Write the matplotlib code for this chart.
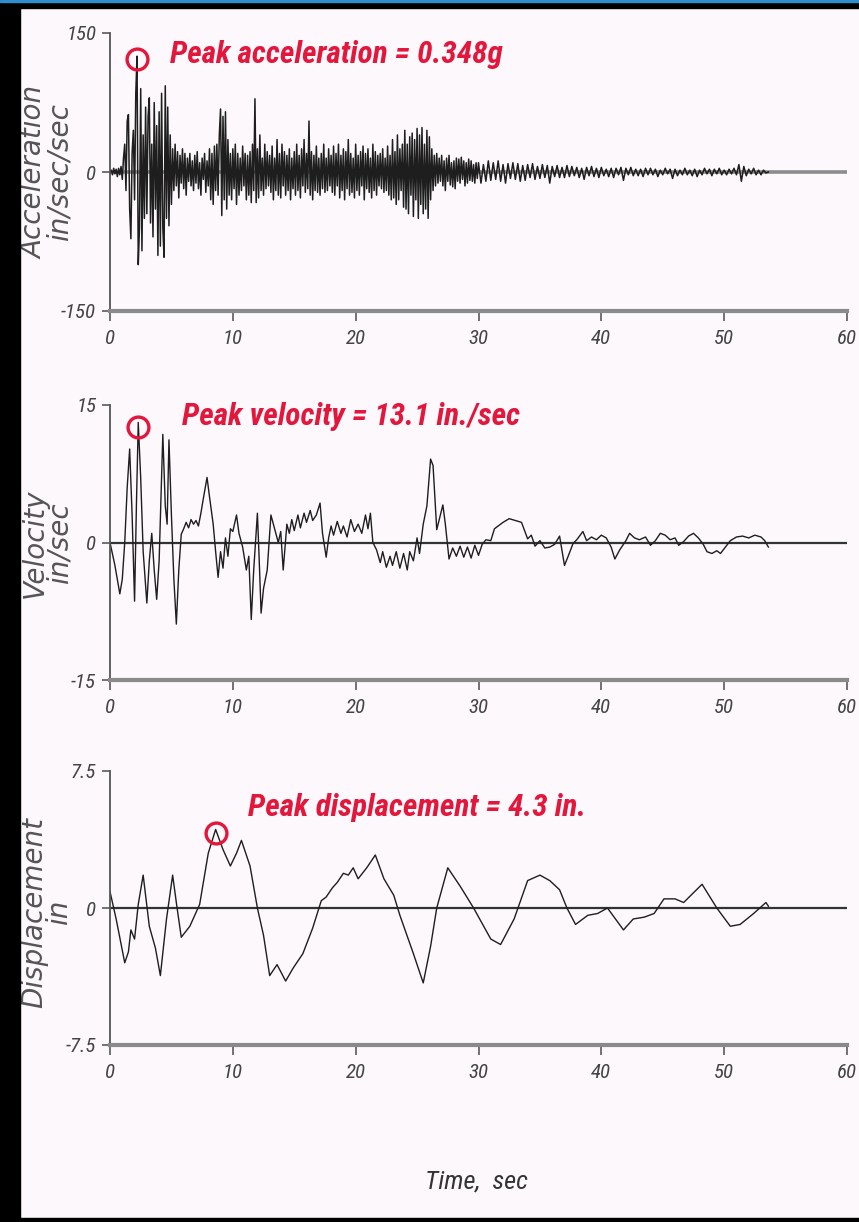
import numpy as np
import matplotlib
matplotlib.use("Agg")
import matplotlib.pyplot as plt
from matplotlib import font_manager
from matplotlib.patches import Rectangle

# acceleration record, in/sec/sec: 0-30 s every 0.1 s, then every 0.2 s to 53.6 s
acc_early = [
    0, 2, -3, 4, -2, 3, -5, 4, -3, 6,
    -8, 15, 30, -20, 55, 62, -40, -72, 20, 45,
    -30, 85, 125, -100, -60, 90, -85, 40, -50, 70,
    -45, 60, 80, -55, 30, -70, 75, -40, 50, -90,
    65, -80, 85, -60, -92, 93, -50, 70, -58, 40,
    -35, 25, -20, 30, -15, 22, -28, 18, -12, 25,
    -18, 20, -25, 15, -10, 20, -15, 12, -20, 18,
    -12, 22, -18, 10, -25, 15, -8, 20, -22, 12,
    -15, 25, -30, 20, -35, 28, -20, 30, -25, 40,
    68, -47, 60, -30, 65, -40, 35, -25, 20, -30,
    25, -18, 30, -35, 20, -25, 15, -20, 28, -15,
    20, -30, 18, -25, 22, -33, 30, -20, 79, -33,
    25, -28, 40, -20, 15, -25, 30, -18, 22, -15,
    18, -22, 28, -30, 15, -20, 35, -25, 20, -28,
    30, -15, 22, -25, 18, -20, 25, -30, 15, -18,
    22, -25, 30, -20, 18, -28, 25, -15, 35, -22,
    20, -18, 55, -25, 22, -30, 18, -20, 28, -22,
    15, -25, 20, -18, 30, -22, 15, -20, 25, -15,
    18, -22, 28, -25, 20, -15, 30, -28, 18, -20,
    25, -30, 22, -18, 35, -25, 20, -22, 15, -28,
    30, -20, 18, -25, 22, -15, 28, -30, 20, -18,
    25, -22, 15, -28, 30, -20, 22, -25, 18, -15,
    20, -18, 25, -22, 15, -20, 28, -25, 18, -30,
    35, -28, 22, -35, 40, -30, 25, -20, 30, -38,
    45, -40, 30, -45, 38, -25, 42, -48, 35, -30,
    47, -50, 40, -35, 48, -45, 30, -40, 45, -50,
    38, -30, 25, -20, 18, -15, 20, -12, 15, -10,
    18, -15, 12, -20, 15, -10, 18, -14, 10, -16,
    12, -18, 15, -10, 14, -12, 16, -8, 12, -15,
    10, -12, 14, -9, 12, -10, 8, -12, 10, -7,
]
acc_late = [
    10, -12, 8, -10, 12,
    -9, 10, -8, 12, -10,
    8, -12, 9, -7, 10,
    -8, 9, -10, 7, -9,
    8, -6, 9, -8, 6,
    -7, 8, -6, 7, -12,
    6, -5, 7, -6, 5,
    -6, 7, -5, 6, -4,
    5, -6, 4, -8, 5,
    -4, 6, -5, 4, -6,
    5, -4, 3, -5, 4,
    -6, 4, -3, 5, -9,
    4, -3, 5, -4, 3,
    -4, 3, -5, 4, -3,
    4, -3, 3, -5, 2,
    -3, 4, -2, 3, -7,
    3, -4, 2, -3, 4,
    -3, 2, -4, 3, -5,
    2, -3, 4, -2, 3,
    -4, 3, -2, 4, -3,
    2, -3, 3, -2, 4,
    -3, 8, -10, 6, -4,
    3, -2, 4, -3, 2,
    -3, 2, -1, 0,
]
acc_time = np.concatenate([np.arange(len(acc_early)) * 0.1,
                           30.0 + np.arange(len(acc_late)) * 0.2])
acc_vals = np.array(acc_early + acc_late, dtype=float)

# velocity, in/sec (time, value)
vel_time = [0, 0.4, 0.8, 1.0, 1.2, 1.4, 1.6, 1.8, 2.0, 2.15, 2.3, 2.5, 2.7, 3.0, 3.2, 3.4,
            3.6, 3.8, 4.0, 4.3, 4.5, 4.65, 4.8, 5.0, 5.2, 5.4, 5.6, 5.8, 6.0, 6.2, 6.4,
            6.6, 6.8, 7.0, 7.2, 7.4, 7.6, 7.9, 8.1, 8.4, 8.6, 8.8, 9.0, 9.2, 9.4, 9.6,
            9.8, 10.0, 10.3, 10.5, 10.8, 11.1, 11.3, 11.5, 11.7, 12.0, 12.15, 12.3, 12.5,
            12.8, 13.1, 13.4, 13.7, 13.9, 14.1, 14.4, 14.6, 14.8, 15.0, 15.3, 15.5, 15.8,
            16.0, 16.3, 16.5, 16.8, 17.1, 17.3, 17.6, 17.8, 18.0, 18.2, 18.5, 18.8, 19.0,
            19.3, 19.6, 19.9, 20.2, 20.5, 20.8, 21.0, 21.2, 21.4, 21.7, 22.0, 22.2, 22.5,
            22.8, 23.0, 23.3, 23.6, 23.9, 24.2, 24.4, 24.7, 25.0, 25.2, 25.5, 25.8, 26.1,
            26.3, 26.6, 26.8, 27.1, 27.3, 27.6, 27.9, 28.2, 28.5, 28.8, 29.1, 29.4, 29.7,
            30.0, 30.3, 30.6, 31.0, 31.3, 31.7, 32.0, 32.5, 33.0, 33.5, 34.0, 34.3, 34.6,
            35.0, 35.4, 35.8, 36.2, 36.6, 37.0, 37.3, 37.7, 38.0, 38.5, 38.8, 39.2, 39.6,
            40.0, 40.4, 40.8, 41.1, 41.5, 42.0, 42.3, 42.7, 43.1, 43.6, 44.0, 44.4, 44.8,
            45.2, 45.6, 46.0, 46.3, 46.7, 47.1, 47.5, 47.9, 48.3, 48.6, 49.0, 49.4, 49.7,
            50.1, 50.5, 51.0, 51.5, 52.0, 52.5, 53.0, 53.3, 53.6]
vel_vals = [0, -2.5, -5.6, -4, 0, 6, 10.2, 3, -6.4, 4, 13.1, 7, -1, -6.6, -2, 1,
            -3, -6.2, -2, 11.8, 4, 2, 11.2, 3, -4, -8.9, -3, 0.9, 1.5, 2.2, 1.6,
            2.5, 2, 2.4, 1.8, 3.2, 4.8, 7.1, 5, 2, -1, -3.8, -1, -2.8, 0.5, -1.5,
            1.5, 1.2, 3.0, 1, -0.5, -3, -1.5, -8.4, -3, 3.2, -2, -7.7, -5,
            -3, 3, 1.5, 0, 1.2, -3, 2, 1, 2.5, 1.3, 3, 1.6, 3.2,
            2.2, 3.5, 2.4, 3.0, 4.3, 1, -1.6, 0.5, 1.8, 0.8, 2.3, 1, 1.8,
            0.6, 2.5, 1.2, 2, 1, 3.0, 1.5, 3.2, 0, -0.8, -2.2, -1, -2.7,
            -1.5, -2.5, -1, -2.8, -1.2, -3.0, -1, -2, 0.5, -1.2, 2, 4, 9.1,
            8.4, 1.4, 2.5, 4.1, 2, -1.8, -0.6, -1.5, -0.4, -1.6, -0.5, -1.7, -0.3,
            -1.4, -0.2, 0.3, 0.2, 1.5, 1.9, 2.2, 2.6, 2.4, 2.2, 0.4, 0.8, -0.4,
            0.2, -0.6, -0.5, -0.2, 0.7, -2.5, -1.5, -0.1, 0.3, 1.2, 0.2, 0.6, 0.3,
            0.8, 0.5, -0.5, -1.8, -0.8, 0.2, 1.0, 0.5, 0.3, 0.6, -0.3, 0.2, 1.0,
            0.8, 0.3, 0.5, -0.3, 0.1, 0.7, 1.0, 0.5, -0.2, -1.0, -1.2, -0.9, -1.2,
            -0.5, 0.2, 0.6, 0.7, 0.5, 0.8, 0.6, 0.2, -0.5]

# displacement, in
disp_time = [0, 0.5, 1.2, 1.5, 1.7, 2.0, 2.3, 2.7, 3.2, 3.7, 4.1, 4.6, 5.1, 5.4, 5.8,
             6.5, 7.3, 8.0, 8.6, 9.2, 9.8, 10.3, 10.7, 11.4, 12.0, 12.5, 13.0, 13.6,
             14.3, 14.9, 15.7, 16.5, 17.2, 17.6, 18.1, 18.5, 19.0, 19.4, 19.8, 20.2,
             20.9, 21.6, 22.3, 23.1, 23.6, 24.7, 25.5, 26.1, 26.6, 27.5, 28.5, 29.6,
             31.0, 31.8, 32.9, 34.0, 35.0, 35.8, 36.6, 37.2, 37.9, 38.9, 39.7, 40.5,
             41.8, 42.6, 43.5, 44.3, 45.1, 46.0, 46.7, 48.2, 49.4, 50.5, 51.3, 52.4,
             53.4, 53.6]
disp_vals = [0.9, -0.6, -3.0, -2.4, -1.2, -1.7, 0.2, 1.8, -1.0, -2.2, -3.7, -0.6, 1.8,
             0.3, -1.6, -1.0, 0.2, 3.0, 4.3, 3.2, 2.3, 3.0, 3.7, 2.3, 0.0, -1.5, -3.7,
             -3.1, -4.0, -3.3, -2.5, -1.1, 0.4, 0.6, 1.1, 1.4, 1.9, 1.8, 2.2, 1.6,
             2.2, 2.9, 1.6, 0.7, -0.4, -2.5, -4.1, -2.1, 0.0, 2.2, 1.2, 0.0,
             -1.7, -2.0, -0.6, 1.5, 1.8, 1.5, 1.0, 0.0, -0.9, -0.4, -0.3, 0.0,
             -1.2, -0.6, -0.5, -0.3, 0.5, 0.5, 0.3, 1.3, 0.0, -1.0, -0.9, -0.3,
             0.3, 0.1]

panel_labels = ["Acceleration\nin/sec/sec", "Velocity\nin/sec", "Displacement\nin"]
panel_limits = [150, 15, 7.5]
limit_labels = [["-150", "0", "150"], ["-15", "0", "15"], ["-7.5", "0", "7.5"]]
peak_texts = ["Peak acceleration = 0.348g", "Peak velocity = 13.1 in./sec",
              "Peak displacement = 4.3 in."]
peak_points = [(2.2, 122), (2.3, 12.6), (8.6, 4.1)]
text_anchor = [(4.9, 127), (5.9, 13.7), (11.2, 5.5)]
x_ticks = [0, 10, 20, 30, 40, 50, 60]

RED = "#e3163c"
BG = "#fcf8fb"

# a condensed face if there is one, else plain Arial metrics
installed = {f.name for f in font_manager.fontManager.ttflist}
candidates = ["Liberation Sans Narrow", "Roboto Condensed", "Open Sans Condensed",
              "Liberation Sans"]
narrow_name = next((n for n in candidates if n in installed), "DejaVu Sans")
is_condensed = narrow_name not in ("Liberation Sans", "DejaVu Sans")
scale = 1.0 if is_condensed else 0.82
narrow = [narrow_name, "DejaVu Sans"]

W, H = 859, 1222
fig = plt.figure(figsize=(W / 100, H / 100), dpi=100, facecolor=BG)

# axes boxes in pixels: (top, bottom) of each panel
boxes = [(33, 311), (405, 680), (771, 1045)]
label_y = [172, 543, 912]
series = [(acc_time, acc_vals, 1.1), (vel_time, vel_vals, 1.0), (disp_time, disp_vals, 1.0)]
zero_style = [("#8c8c8c", 2.6), ("#333333", 1.6), ("#333333", 1.6)]

for i, (top, bot) in enumerate(boxes):
    ax = fig.add_axes([110 / W, 1 - bot / H, 737 / W, (bot - top) / H])
    ax.set_facecolor(BG)
    lim = panel_limits[i]
    t, v, lw = series[i]
    ax.axhline(0, color=zero_style[i][0], lw=zero_style[i][1], zorder=1)
    ax.plot(t, v, color="#1e1e1e", lw=lw, zorder=2)
    ax.plot(*peak_points[i], marker="o", ms=15, mfc="none", mec=RED, mew=2.4, zorder=3)
    ax.text(*text_anchor[i], peak_texts[i], color=RED, fontsize=22.5 * scale,
            fontweight="bold", fontstyle="italic", family=narrow, va="center", ha="left")

    ax.set_xlim(0, 60)
    ax.set_ylim(-lim, lim)
    for s in ["top", "right"]:
        ax.spines[s].set_visible(False)
    ax.spines["left"].set_color("#555555")
    ax.spines["left"].set_linewidth(1.3)
    ax.spines["bottom"].set_color("#8a8a8a")
    ax.spines["bottom"].set_linewidth(3)

    ax.set_xticks(x_ticks)
    ax.set_xticklabels([str(x) for x in x_ticks])
    ax.set_yticks([-lim, 0, lim])
    ax.set_yticklabels(limit_labels[i])
    ax.tick_params(axis="x", length=7, width=1.3, color="#666666", pad=6)
    ax.tick_params(axis="y", length=6, width=1.3, color="#666666", pad=4)
    for lab in ax.get_xticklabels() + ax.get_yticklabels():
        lab.set_family(narrow)
        lab.set_fontstyle("italic")
        lab.set_fontsize(15 * scale)
        lab.set_color("#444444")

    fig.text(47 / W, 1 - label_y[i] / H, panel_labels[i], rotation=90, ha="center",
             va="center", multialignment="center", fontsize=20, fontstyle="italic",
             color="#555555", linespacing=0.85)

fig.text(477 / W, 1 - 1182 / H, "Time,  sec", ha="center", va="center",
         fontsize=19 * scale, fontstyle="italic", family=narrow, color="#333333")

# black frame of the scanned slide
fig.patches.append(Rectangle((0, 0), 20 / W, 1, transform=fig.transFigure,
                             color="black", zorder=10))
fig.patches.append(Rectangle((0, 1 - 8 / H), 1, 8 / H, transform=fig.transFigure,
                             color="black", zorder=10))
fig.patches.append(Rectangle((0, 1 - 2 / H), 1, 2 / H, transform=fig.transFigure,
                             color="#2e8fcf", zorder=11))
fig.patches.append(Rectangle((0, 0), 1, 4 / H, transform=fig.transFigure,
                             color="black", zorder=10))

fig.savefig("out.png", dpi=100, facecolor=BG)
